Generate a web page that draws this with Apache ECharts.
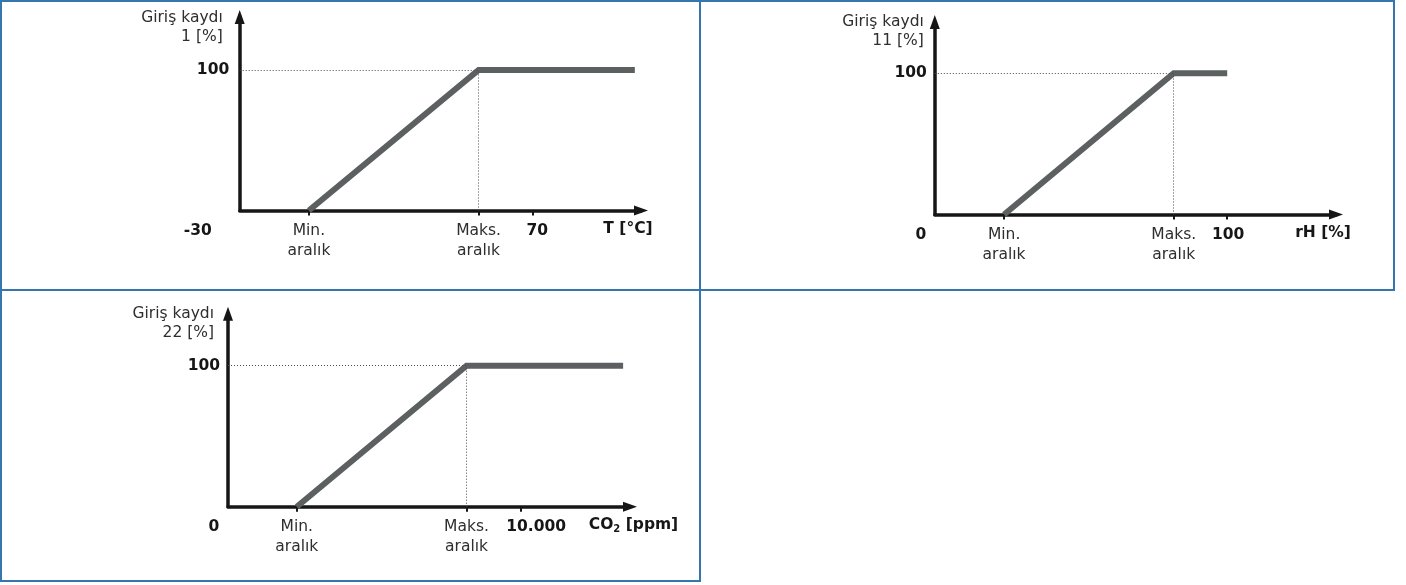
<!DOCTYPE html>
<html><head><meta charset="utf-8">
<script src="https://cdn.jsdelivr.net/npm/echarts@6/dist/echarts.min.js"></script>
<style>html,body{margin:0;padding:0;background:#fff}#c{width:1406px;height:585px}</style>
</head><body><div id="c"></div>
<script>
// ---- Panel 1: temperature ----
const tTickValues = [-30, -6.4, 51.5, 70];
const tTickLabels = ['-30', 'Min.\naralık', 'Maks.\naralık', '70'];
const tX = [-6.4, 51.5, 104.8];
const tY = [0, 100, 100];
// ---- Panel 2: relative humidity ----
const rhTickValues = [0, 23.7, 81.7, 100];
const rhTickLabels = ['0', 'Min.\naralık', 'Maks.\naralık', '100'];
const rhX = [23.7, 81.7, 100];
const rhY = [0, 100, 100];
// ---- Panel 3: CO2 ----
const co2TickValues = [0, 2350, 8150, 10000];
const co2TickLabels = ['0', 'Min.\naralık', 'Maks.\naralık', '10.000'];
const co2X = [2350, 8150, 13500];
const co2Y = [0, 100, 100];
// ---- shared ----
const yTickValues = [100];
const yTickLabels = ['100'];
const yNames = ['Giriş kaydı\n1 [%]', 'Giriş kaydı\n11 [%]', 'Giriş kaydı\n22 [%]'];
const xNames = ['T [°C]', 'rH [%]', 'CO₂ [ppm]'];

const AXIS = '#161616', TXT = '#2e2e2e', LINE = '#5c6060', DOT = '#4a4a4a', BORDER = '#3576ae';
const FONT = 'DejaVu Sans', FS = 15.5;

const panels = [
  {tickV: tTickValues, tickL: tTickLabels, lx: tX, ly: tY, xMin: -30, xMax: 106.9, yMax: 137.7,
   grid: {left: 239.7, right: 765, top: 17, bottom: 374.5},
   originPad: 84, tickPad: 9, xNameGap: -13, xNamePadTop: 8, yNameGap: 8.5, yNamePadR: 17, yLabelMargin: 10.5},
  {tickV: rhTickValues, tickL: rhTickLabels, lx: rhX, ly: rhY, xMin: 0, xMax: 137.2, yMax: 136.3,
   grid: {left: 934.8, right: 70, top: 22, bottom: 370.5},
   originPad: 28, tickPad: 2, xNameGap: -13, xNamePadTop: 8, yNameGap: 9.8, yNamePadR: 11, yLabelMargin: 8},
  {tickV: co2TickValues, tickL: co2TickLabels, lx: co2X, ly: co2Y, xMin: 0, xMax: 13735, yMax: 136.9,
   grid: {left: 228, right: 776, top: 313.7, bottom: 78.3},
   originPad: 28, tickPad: 31, xNameGap: 3.5, xNamePadTop: 8, yNameGap: 9.2, yNamePadR: 14, yLabelMargin: 8}
];

function richName(n) {
  const parts = n.split('₂');
  if (parts.length === 1) return '{b|' + n + '}';
  return '{b|' + parts[0] + '}{s|2}{b|' + parts[1] + '}';
}

const grids = [], xAxes = [], yAxes = [], series = [];
panels.forEach((p, i) => {
  grids.push(Object.assign({containLabel: false, outerBoundsMode: 'none'}, p.grid));
  const n = p.tickV.length;
  const boldVals = [p.tickV[0], p.tickV[n - 1]];
  const rangeVals = p.tickV.slice(1, n - 1);
  xAxes.push({
    type: 'value', gridIndex: i, min: p.xMin, max: p.xMax, position: 'bottom', offset: 0,
    name: richName(xNames[i]), nameLocation: 'end', nameGap: p.xNameGap,
    nameTextStyle: {align: 'center', verticalAlign: 'top', padding: [p.xNamePadTop, 0, 0, 0],
      rich: {
        b: {fontFamily: FONT, fontSize: FS, fontWeight: 'bold', color: AXIS, lineHeight: 20},
        s: {fontFamily: FONT, fontSize: 10, fontWeight: 'bold', color: AXIS, lineHeight: 8, verticalAlign: 'bottom'}
      }},
    axisLine: {show: true, onZero: false, symbol: ['none', 'triangle'], symbolSize: [10, 14], lineStyle: {color: AXIS, width: 3.5}},
    axisTick: {show: true, customValues: p.tickV.slice(1), length: 5, lineStyle: {color: AXIS, width: 2}},
    axisLabel: {show: true, customValues: boldVals, margin: 10, verticalAlign: 'top', showMinLabel: true, showMaxLabel: true,
      rich: {
        o: {fontFamily: FONT, fontSize: FS, fontWeight: 'bold', color: AXIS, lineHeight: 20, padding: [0, p.originPad, 0, 0]},
        t: {fontFamily: FONT, fontSize: FS, fontWeight: 'bold', color: AXIS, lineHeight: 20, padding: [0, 0, 0, p.tickPad]}
      },
      formatter: v => {
        const k = p.tickV.indexOf(v);
        if (k === 0) return '{o|' + p.tickL[k] + '}';
        if (k === n - 1) return '{t|' + p.tickL[k] + '}';
        return '';
      }},
    splitLine: {show: false}
  });
  xAxes.push({
    type: 'value', gridIndex: i, min: p.xMin, max: p.xMax, position: 'bottom', offset: 0,
    axisLine: {show: false, onZero: false}, axisTick: {show: false}, splitLine: {show: false},
    axisLabel: {show: true, customValues: rangeVals, margin: 10, verticalAlign: 'top',
      fontFamily: FONT, fontSize: FS, color: TXT, lineHeight: 20,
      formatter: v => {
        const k = p.tickV.indexOf(v);
        return k > 0 && k < n - 1 ? p.tickL[k] : '';
      }}
  });
  yAxes.push({
    type: 'value', gridIndex: i, min: 0, max: p.yMax,
    name: yNames[i], nameLocation: 'end', nameGap: p.yNameGap,
    nameTextStyle: {fontFamily: FONT, fontSize: FS, color: TXT, align: 'right', verticalAlign: 'top', lineHeight: 19, padding: [0, p.yNamePadR, 0, 0]},
    axisLine: {show: true, onZero: false, symbol: ['none', 'triangle'], symbolSize: [10, 14], lineStyle: {color: AXIS, width: 3.5}},
    axisTick: {show: false},
    axisLabel: {show: true, customValues: yTickValues, margin: p.yLabelMargin, fontFamily: FONT, fontSize: FS, fontWeight: 'bold', color: AXIS,
      formatter: v => yTickLabels[yTickValues.indexOf(v)] || ''},
    splitLine: {show: false}
  });
  const maks = p.lx[1];
  series.push({
    type: 'line', xAxisIndex: 2 * i, yAxisIndex: i, symbol: 'none', animation: false, silent: true,
    data: p.lx.map((x, j) => [x, p.ly[j]]),
    lineStyle: {color: LINE, width: 6, cap: 'butt', join: 'miter'},
    z: 3,
    markLine: {silent: true, symbol: 'none', animation: false, label: {show: false},
      lineStyle: {color: DOT, width: 1, type: [1, 2]},
      emphasis: {disabled: true},
      data: [
        [{coord: [p.xMin, p.ly[1]]}, {coord: [maks, p.ly[1]]}],
        [{coord: [maks, p.ly[0]]}, {coord: [maks, p.ly[1]]}]
      ]}
  });
});

const chart = echarts.init(document.getElementById('c'), null, {renderer: 'canvas'});
chart.setOption({
  backgroundColor: '#ffffff',
  animation: false,
  grid: grids, xAxis: xAxes, yAxis: yAxes, series,
  graphic: [
    {type: 'rect', z: -1, shape: {x: 1, y: 1, width: 699, height: 289}, style: {fill: 'none', stroke: BORDER, lineWidth: 2}},
    {type: 'rect', z: -1, shape: {x: 700, y: 1, width: 694, height: 289}, style: {fill: 'none', stroke: BORDER, lineWidth: 2}},
    {type: 'rect', z: -1, shape: {x: 1, y: 290, width: 699, height: 291}, style: {fill: 'none', stroke: BORDER, lineWidth: 2}}
  ]
});
</script></body></html>
